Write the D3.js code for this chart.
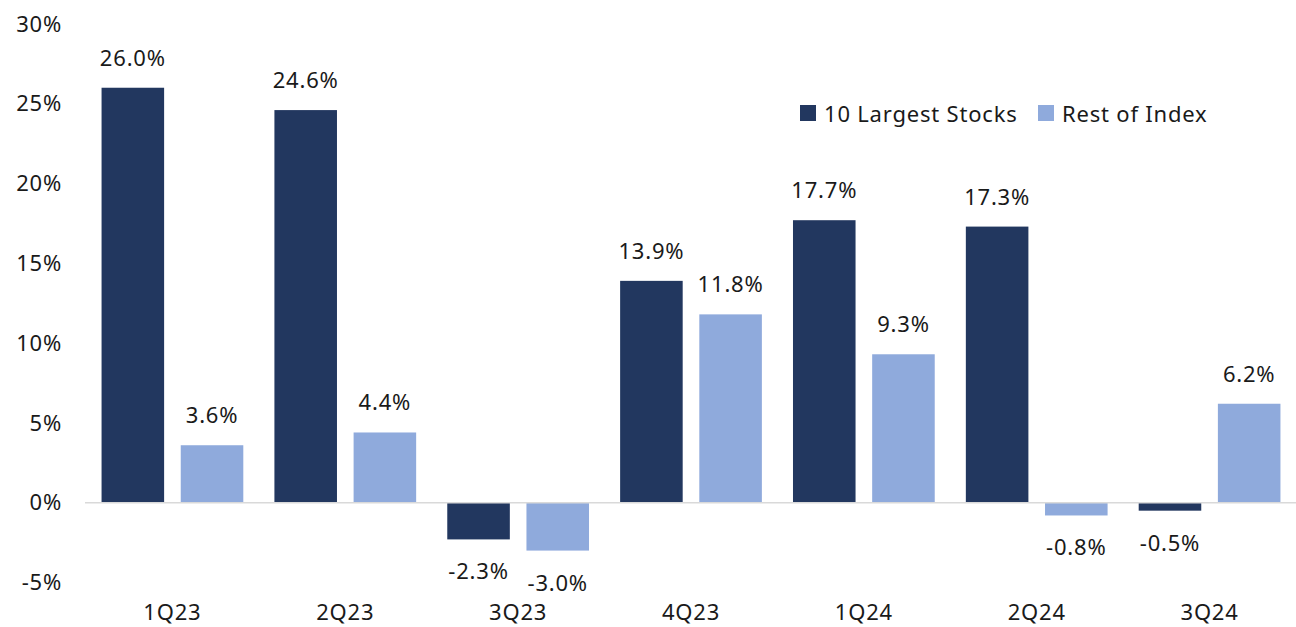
<!DOCTYPE html>
<html>
<head>
<meta charset="utf-8">
<script src="https://cdn.jsdelivr.net/npm/d3@7.9.0/dist/d3.min.js"></script>
<style>
  body { margin: 0; background: #fff; }
  svg { display: block; font-family: "Noto Sans", sans-serif; letter-spacing: 0.8px; }
</style>
</head>
<body>
<svg id="chart" width="1296" height="627"></svg>
<script>
// Quarters and returns (%)
const quarters = ["1Q23", "2Q23", "3Q23", "4Q23", "1Q24", "2Q24", "3Q24"];
const largest = [26.0, 24.6, -2.3, 13.9, 17.7, 17.3, -0.5];
const rest = [3.6, 4.4, -3.0, 11.8, 9.3, -0.8, 6.2];
const seriesNames = ["10 Largest Stocks", "Rest of Index"];
const yTicks = [-5, 0, 5, 10, 15, 20, 25, 30];

const colors = d3.scaleOrdinal().domain(seriesNames).range(["#22375f", "#8faadc"]);

const width = 1296, height = 627;
const fontSize = 22;
const svg = d3.select("#chart");

// y scale: 0% sits at ~502, 30% at ~24
const y = d3.scaleLinear().domain([-5, 30]).range([582.5, 23.9]);

const x0 = d3.scaleBand()
  .domain(quarters)
  .range([86, 1296])
  .paddingInner(0.18)
  .paddingOuter(0.09);

const x1 = d3.scaleBand()
  .domain(seriesNames)
  .range([0, x0.bandwidth()])
  .paddingInner(0.21);

const rows = quarters.map((q, i) => ({
  q,
  values: [
    { name: seriesNames[0], v: largest[i] },
    { name: seriesNames[1], v: rest[i] }
  ]
}));

// y axis labels (no line, no ticks)
svg.append("g")
  .selectAll("text")
  .data(yTicks)
  .enter()
  .append("text")
  .attr("x", 62)
  .attr("y", d => y(d))
  .attr("dy", "0.35em")
  .attr("text-anchor", "end")
  .attr("font-size", fontSize)
  .attr("fill", "#1a1a1a")
  .text(d => d + "%");

// bars
const groups = svg.append("g")
  .selectAll("g")
  .data(rows)
  .enter()
  .append("g")
  .attr("transform", d => `translate(${x0(d.q)},0)`);

groups.selectAll("rect")
  .data(d => d.values)
  .enter()
  .append("rect")
  .attr("x", d => x1(d.name))
  .attr("width", x1.bandwidth())
  .attr("y", d => y(Math.max(0, d.v)))
  .attr("height", d => Math.abs(y(d.v) - y(0)))
  .attr("fill", d => colors(d.name));

// value labels
groups.selectAll("text")
  .data(d => d.values)
  .enter()
  .append("text")
  .attr("x", d => x1(d.name) + x1.bandwidth() / 2)
  .attr("y", d => d.v >= 0 ? y(d.v) - 22 : y(d.v) + 40)
  .attr("text-anchor", "middle")
  .attr("font-size", fontSize)
  .attr("fill", "#1a1a1a")
  .text(d => d.v.toFixed(1) + "%");

// zero line
svg.append("line")
  .attr("x1", 85)
  .attr("x2", width)
  .attr("y1", y(0))
  .attr("y2", y(0))
  .attr("stroke", "#d9d9d9")
  .attr("stroke-width", 1.5);

// category labels
svg.append("g")
  .selectAll("text")
  .data(quarters)
  .enter()
  .append("text")
  .attr("x", d => x0(d) + x0.bandwidth() / 2)
  .attr("y", 620)
  .attr("text-anchor", "middle")
  .attr("font-size", fontSize)
  .attr("fill", "#1a1a1a")
  .text(d => d);

// legend
const legendX = [800, 1038];
const legend = svg.append("g")
  .selectAll("g")
  .data(seriesNames)
  .enter()
  .append("g")
  .attr("transform", (d, i) => `translate(${legendX[i]},105)`);

legend.append("rect")
  .attr("width", 16)
  .attr("height", 16)
  .attr("fill", d => colors(d));

legend.append("text")
  .attr("x", 24)
  .attr("y", 17)
  .attr("font-size", fontSize)
  .attr("fill", "#1a1a1a")
  .text(d => d);
</script>
</body>
</html>
